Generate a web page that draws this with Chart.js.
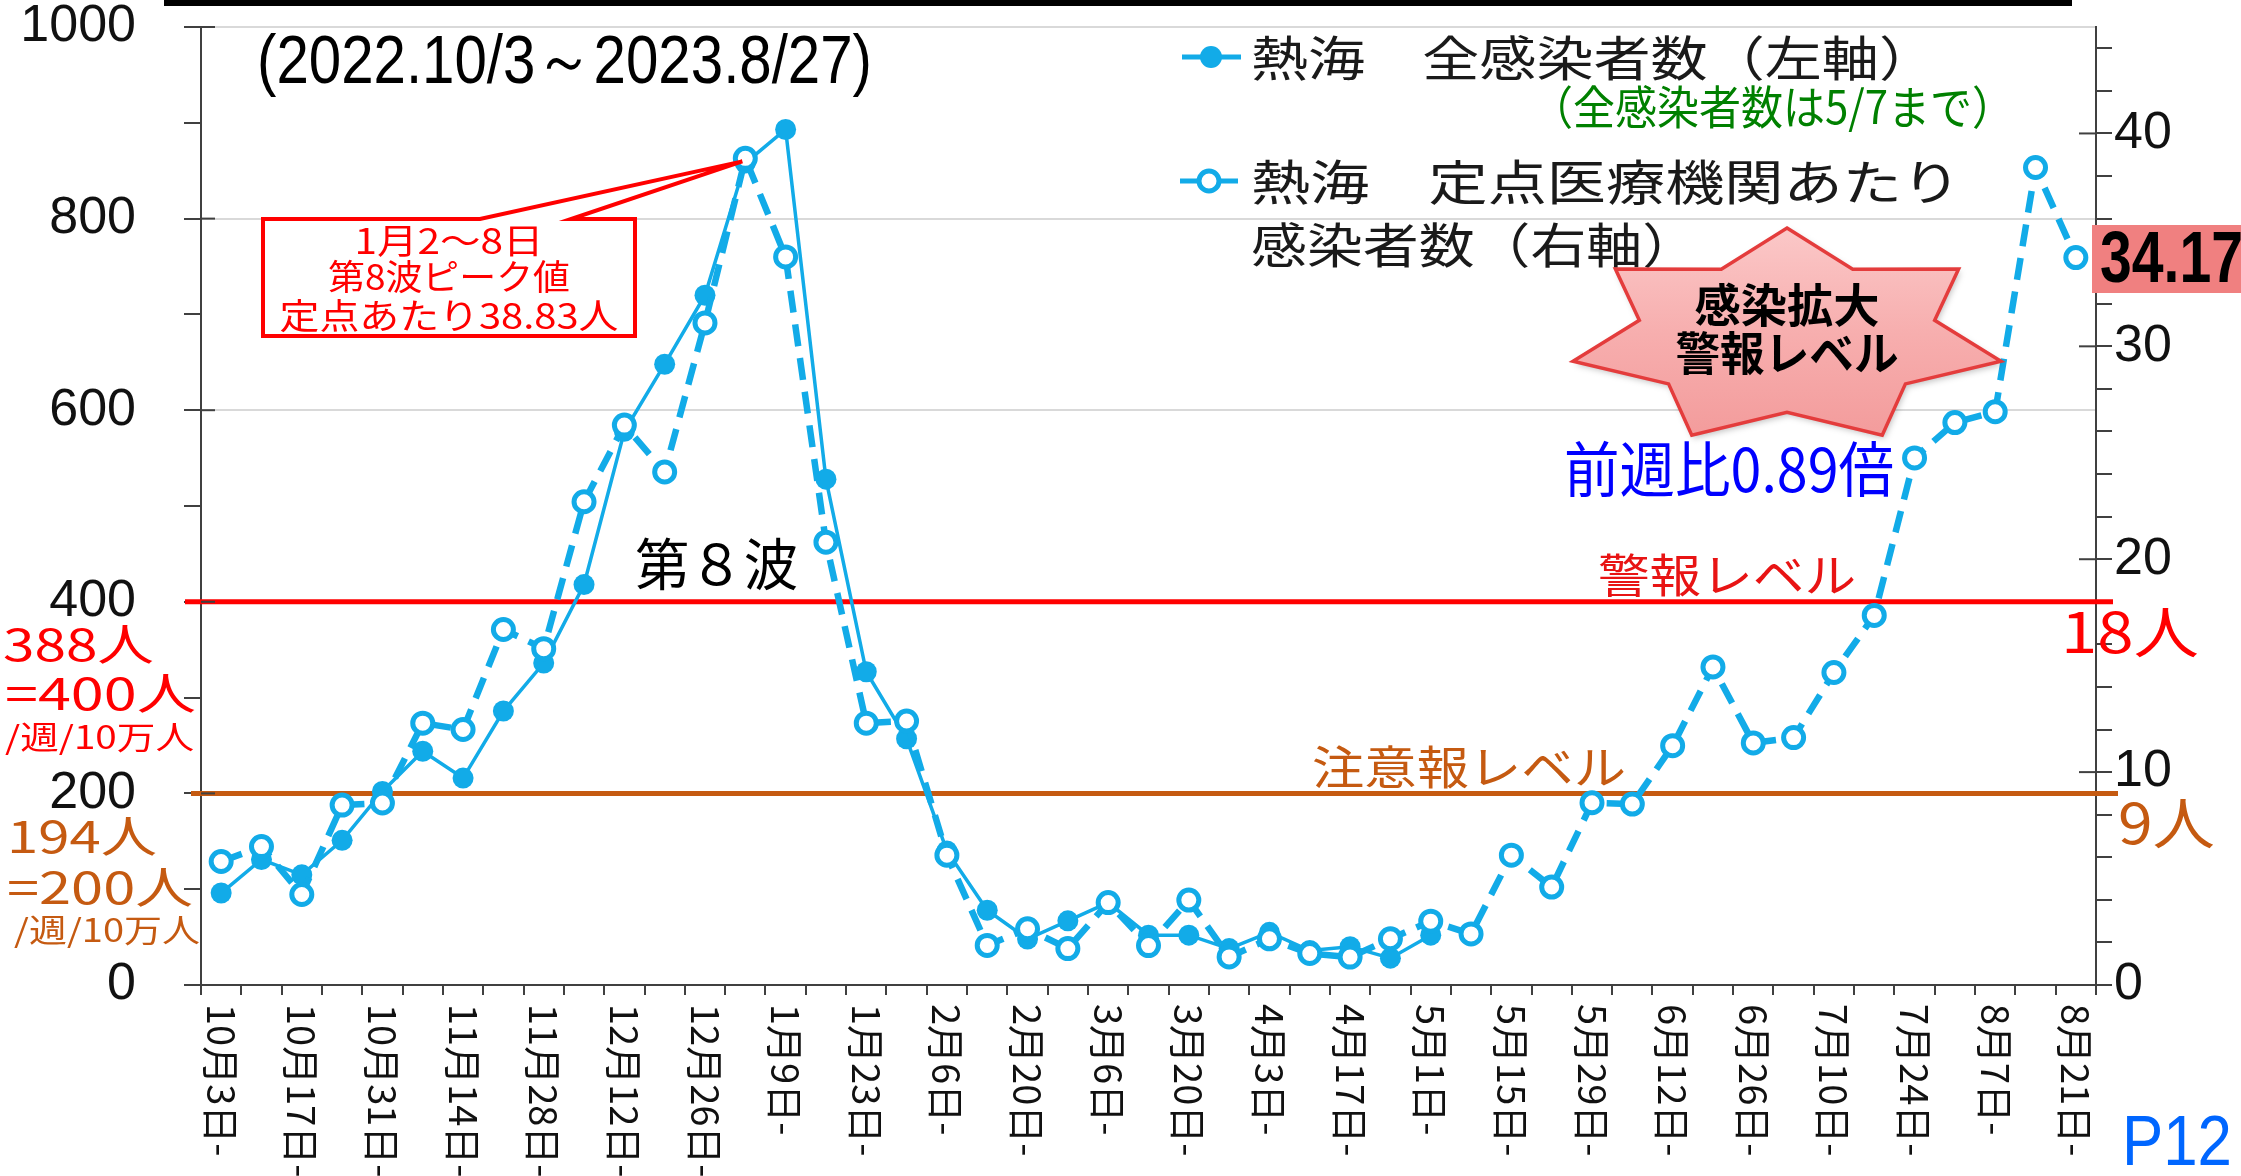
<!DOCTYPE html>
<html><head><meta charset="utf-8">
<script src="https://cdn.jsdelivr.net/npm/chart.js"></script>
<style>html,body{margin:0;padding:0;background:#fff;}canvas{display:block;}</style>
</head><body>
<canvas id="c" width="2241" height="1176" style="width:2241px;height:1176px"></canvas>
<script>
// ---- data ----
const weeks = ['10月3日','10月10日','10月17日','10月24日','10月31日','11月7日','11月14日','11月21日','11月28日','12月5日','12月12日','12月19日','12月26日','1月2日','1月9日','1月16日','1月23日','1月30日','2月6日','2月13日','2月20日','2月27日','3月6日','3月13日','3月20日','3月27日','4月3日','4月10日','4月17日','4月24日','5月1日','5月8日','5月15日','5月22日','5月29日','6月5日','6月12日','6月19日','6月26日','7月3日','7月10日','7月17日','7月24日','7月31日','8月7日','8月14日','8月21日'];
const totalCases = [96,131,115,151,202,244,216,286,336,418,578,648,720,858,893,528,327,257,140,78,48,67,86,52,52,38,55,36,40,28,52,null,null,null,null,null,null,null,null,null,null,null,null,null,null,null,null];
const perSentinel = [5.8,6.5,4.25,8.45,8.55,12.3,12.0,16.7,15.8,22.7,26.3,24.1,31.1,38.83,34.2,20.8,12.3,12.4,6.1,1.86,2.64,1.71,3.87,1.85,3.99,1.32,2.17,1.48,1.31,2.17,3.0,2.4,6.1,4.6,8.56,8.5,11.24,14.94,11.37,11.62,14.68,17.36,24.76,26.42,26.93,38.4,34.17];
const leftTickStep = 100;
const rightTickValues = [0,2,4,6,8,10,12,14,16,18,20,22,24,26,28,30,32,34,36,38,40,42,44];
const alertLevelLeft = 400;    // 警報レベル (= 18人)
const cautionLevelLeft = 200;  // 注意報レベル (= 9人)
const peakIndex = 13;
const latestValueText = '34.17';

// ---- style ----
const BLUE = '#12abe8';
const RED = '#ff0000';
const BROWN = '#c55a11';
const JP = '"Noto Sans CJK JP", "Noto Sans", sans-serif';
const LAT = '"Liberation Sans", Arial, sans-serif';
const AXIS = '#404040';

function fitText(ctx, text, x, y, size, family, color, width, align, weight) {
  ctx.save();
  ctx.font = (weight || 'normal') + ' ' + size + 'px ' + family;
  ctx.fillStyle = color;
  ctx.textBaseline = 'middle';
  ctx.textAlign = 'left';
  const w = ctx.measureText(text).width;
  const sx = width ? width / w : 1;
  const tw = w * sx;
  let x0 = x;
  if (align === 'center') x0 = x - tw / 2; else if (align === 'right') x0 = x - tw;
  ctx.translate(x0, y);
  ctx.scale(sx, 1);
  ctx.fillText(text, 0, 0);
  ctx.restore();
}

function starPath(ctx, cx, cy, rx, ry, n, inner) {
  ctx.beginPath();
  for (let k = 0; k < 2 * n; k++) {
    const th = k * Math.PI / n;
    const r = (k % 2 === 0) ? 1 : inner;
    const x = cx + rx * r * Math.sin(th);
    const y = cy - ry * r * Math.cos(th);
    if (k === 0) ctx.moveTo(x, y); else ctx.lineTo(x, y);
  }
  ctx.closePath();
}

const decor = {
  id: 'decor',
  beforeDraw(chart) {
    const ctx = chart.ctx;
    ctx.save();
    ctx.fillStyle = '#fff';
    ctx.fillRect(0, 0, chart.width, chart.height);
    ctx.fillStyle = '#000';
    ctx.fillRect(164, 0, 1908, 6);
    ctx.restore();
  },
  beforeDatasetsDraw(chart) {
    const ctx = chart.ctx, y = chart.scales.y, a = chart.chartArea;
    ctx.save();
    ctx.lineWidth = 5;
    ctx.strokeStyle = RED;
    let py = y.getPixelForValue(alertLevelLeft);
    ctx.beginPath(); ctx.moveTo(a.left - 16, py); ctx.lineTo(a.right + 17, py); ctx.stroke();
    ctx.strokeStyle = BROWN;
    py = y.getPixelForValue(cautionLevelLeft);
    ctx.beginPath(); ctx.moveTo(a.left - 10, py); ctx.lineTo(a.right + 22, py); ctx.stroke();
    ctx.restore();
  },
  afterDatasetsDraw(chart) {
    const ctx = chart.ctx, xs = chart.scales.x, y = chart.scales.y, y2 = chart.scales.y2, a = chart.chartArea;
    ctx.save();
    // crossing part of major ticks
    ctx.strokeStyle = AXIS; ctx.lineWidth = 2;
    for (let v = 200; v <= 1000; v += 200) {
      const p = y.getPixelForValue(v);
      ctx.beginPath(); ctx.moveTo(a.left, p); ctx.lineTo(a.left + 14, p); ctx.stroke();
    }
    for (let v = 10; v <= 40; v += 10) {
      const p = y2.getPixelForValue(v);
      ctx.beginPath(); ctx.moveTo(a.right - 17, p); ctx.lineTo(a.right, p); ctx.stroke();
    }

    // title period
    fitText(ctx, '(2022.10/3～2023.8/27)', 257, 64, 68, LAT, '#000', 615);

    // callout
    const tx = xs.getPixelForValue(peakIndex) - 3, ty = y2.getPixelForValue(perSentinel[peakIndex]) + 3;
    ctx.beginPath();
    ctx.moveTo(263, 219); ctx.lineTo(480, 219); ctx.lineTo(tx, ty); ctx.lineTo(571, 219);
    ctx.lineTo(635, 219); ctx.lineTo(635, 336); ctx.lineTo(263, 336); ctx.closePath();
    ctx.fillStyle = '#fff'; ctx.fill();
    ctx.strokeStyle = RED; ctx.lineWidth = 4; ctx.lineJoin = 'miter'; ctx.stroke();
    fitText(ctx, '1月2～8日', 449, 241, 35, JP, RED, 189, 'center');
    fitText(ctx, '第8波ピーク値', 449, 277, 35, JP, RED, 242, 'center');
    fitText(ctx, '定点あたり38.83人', 449, 316, 35, JP, RED, 339, 'center');

    // wave label
    fitText(ctx, '第８波', 635, 564, 56, JP, '#000', 163);

    // legend
    ctx.strokeStyle = BLUE; ctx.lineWidth = 5;
    ctx.beginPath(); ctx.moveTo(1182, 57); ctx.lineTo(1241, 57); ctx.stroke();
    ctx.fillStyle = BLUE; ctx.beginPath(); ctx.arc(1211, 57, 11, 0, Math.PI * 2); ctx.fill();
    ctx.beginPath(); ctx.moveTo(1180, 181); ctx.lineTo(1238, 181); ctx.stroke();
    ctx.fillStyle = '#fff'; ctx.beginPath(); ctx.arc(1209, 181, 10, 0, Math.PI * 2); ctx.fill(); ctx.stroke();
    fitText(ctx, '熱海　全感染者数（左軸）', 1251, 58, 48, JP, '#1a1a1a', 685);
    fitText(ctx, '（全感染者数は5/7まで）', 1531, 107, 46, JP, '#008000', 483);
    fitText(ctx, '熱海　定点医療機関あたり', 1251, 182, 48, JP, '#1a1a1a', 710);
    fitText(ctx, '感染者数（右軸）', 1251, 245, 48, JP, '#1a1a1a', 447);

    // star
    ctx.save();
    ctx.shadowColor = 'rgba(0,0,0,0.25)'; ctx.shadowBlur = 6; ctx.shadowOffsetX = 2; ctx.shadowOffsetY = 3;
    starPath(ctx, 1787, 337, 219.5, 109, 7, 0.69);
    const g = ctx.createLinearGradient(0, 228, 0, 440);
    g.addColorStop(0, '#fbc8c8'); g.addColorStop(0.5, '#f7aeae'); g.addColorStop(1, '#f39b9b');
    ctx.fillStyle = g; ctx.fill();
    ctx.restore();
    starPath(ctx, 1787, 337, 219.5, 109, 7, 0.69);
    ctx.strokeStyle = '#e43c3c'; ctx.lineWidth = 3.5; ctx.lineJoin = 'miter'; ctx.stroke();
    fitText(ctx, '感染拡大', 1787, 305, 46, JP, '#000', 185, 'center', 'bold');
    fitText(ctx, '警報レベル', 1787, 353, 46, JP, '#000', 223, 'center', 'bold');

    fitText(ctx, '前週比0.89倍', 1564, 469, 60, JP, '#0000ff', 330);
    fitText(ctx, '警報レベル', 1598, 575, 46, JP, '#e81414', 258);
    fitText(ctx, '注意報レベル', 1312, 767, 46, JP, BROWN, 314);
    fitText(ctx, '18人', 2061, 632, 56, JP, RED, 138);
    fitText(ctx, '9人', 2118, 823, 56, JP, BROWN, 97);

    // left side notes
    fitText(ctx, '388人', 3, 644, 44, JP, RED, 151);
    fitText(ctx, '=400人', 5, 693, 44, JP, RED, 191);
    fitText(ctx, '/週/10万人', 5, 737, 32, JP, RED, 189);
    fitText(ctx, '194人', 7, 836, 44, JP, BROWN, 150);
    fitText(ctx, '=200人', 7, 887, 44, JP, BROWN, 186);
    fitText(ctx, '/週/10万人', 14, 930, 32, JP, BROWN, 186);

    // latest value box
    ctx.fillStyle = '#f08080';
    ctx.fillRect(2092, 225, 149, 68);
    fitText(ctx, latestValueText, 2100, 262, 72, LAT, '#000', 143, 'left', 'bold');

    fitText(ctx, 'P12', 2122, 1146, 70, LAT, '#0066ff', 110);

    // x labels rotated clockwise
    ctx.fillStyle = '#111';
    ctx.font = '38px ' + JP;
    ctx.textAlign = 'left'; ctx.textBaseline = 'middle';
    weeks.forEach((w, i) => {
      if (i % 2) return;
      const px = xs.getPixelForValue(i);
      ctx.save();
      ctx.translate(px, a.bottom + 19);
      ctx.rotate(Math.PI / 2);
      ctx.fillText(w + '-', 0, 0);
      ctx.restore();
    });
    ctx.restore();
  }
};

new Chart(document.getElementById('c'), {
  type: 'line',
  data: {
    labels: weeks,
    datasets: [
      {
        label: '熱海　定点医療機関あたり感染者数（右軸）',
        data: perSentinel, yAxisID: 'y2',
        borderColor: BLUE, borderWidth: 6.5, borderDash: [22, 12],
        pointRadius: 10, pointBorderWidth: 5, pointBackgroundColor: '#fff', pointBorderColor: BLUE,
        tension: 0, order: 0
      },
      {
        label: '熱海　全感染者数（左軸）',
        data: totalCases, yAxisID: 'y',
        borderColor: BLUE, borderWidth: 3.5,
        pointRadius: 10.5, pointBorderWidth: 0, pointBackgroundColor: BLUE,
        tension: 0, order: 1
      }
    ]
  },
  options: {
    responsive: false, animation: false, devicePixelRatio: 1,
    layout: { padding: { top: 27, left: 0, right: 0, bottom: 0 } },
    plugins: { legend: { display: false }, tooltip: { enabled: false } },
    scales: {
      x: {
        type: 'category', offset: true,
        grid: { offset: true, drawOnChartArea: false, drawTicks: true, tickLength: 10, color: AXIS, lineWidth: 2 },
        border: { display: true, color: AXIS, width: 2 },
        ticks: { display: false },
        afterFit: (s) => { s.height = 191; s.paddingLeft = 0; s.paddingRight = 0; }
      },
      y: {
        position: 'left', min: 0, max: 1000,
        ticks: {
          stepSize: leftTickStep, autoSkip: false, padding: 48, color: '#111',
          font: { family: 'Liberation Sans', size: 52, lineHeight: 1 },
          callback: (v) => (v % 200 === 0 ? String(v) : '')
        },
        grid: {
          color: (c) => (c.tick && c.tick.value % 200 === 0 && c.tick.value > 0) ? '#d9d9d9' : 'rgba(0,0,0,0)',
          tickColor: AXIS, lineWidth: 2, tickWidth: 2, tickLength: 17
        },
        border: { display: true, color: AXIS, width: 2 },
        afterFit: (s) => { s.width = 201; s.paddingTop = 10; s.paddingBottom = 10; }
      },
      y2: {
        position: 'right', min: 0, max: 45,
        afterBuildTicks: (s) => { s.ticks = rightTickValues.map(v => ({ value: v })); },
        ticks: {
          autoSkip: false, padding: 2, color: '#111',
          font: { family: 'Liberation Sans', size: 52, lineHeight: 1 },
          callback: (v) => (v % 10 === 0 ? String(v) : '')
        },
        grid: { drawOnChartArea: false, color: AXIS, lineWidth: 2, tickLength: 16 },
        border: { display: true, color: AXIS, width: 2 },
        afterFit: (s) => { s.width = 145; s.paddingTop = 10; s.paddingBottom = 10; }
      }
    }
  },
  plugins: [decor]
});
</script>
</body></html>
